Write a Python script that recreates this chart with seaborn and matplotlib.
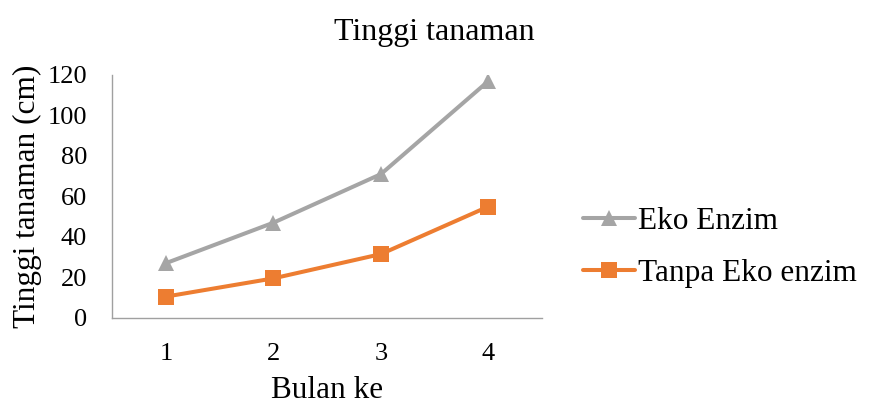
import pandas as pd
import seaborn as sns
import matplotlib.pyplot as plt
import numpy as np

bulan = [1, 2, 3, 4]
eko_enzim = [27, 47, 71, 117]
tanpa_eko = [10.5, 19.5, 31.5, 55]
series_names = ['Eko Enzim', 'Tanpa Eko enzim']

df = pd.DataFrame({
    'Bulan': bulan * 2,
    'Tinggi': eko_enzim + tanpa_eko,
    'Seri': [series_names[0]] * 4 + [series_names[1]] * 4,
})

sns.set_style('white')
plt.rcParams['font.family'] = ['Liberation Serif', 'DejaVu Serif']
plt.rcParams['text.color'] = 'black'
plt.rcParams['axes.labelcolor'] = 'black'
plt.rcParams['xtick.labelcolor'] = 'black'
plt.rcParams['ytick.labelcolor'] = 'black'

fig = plt.figure(figsize=(8.69, 4.07), dpi=100)
ax = fig.add_axes([0.129, 0.219, 0.495, 0.597])

palette = {'Eko Enzim': '#a5a5a5', 'Tanpa Eko enzim': '#ed7d31'}
markers = {'Eko Enzim': '^', 'Tanpa Eko enzim': 's'}
sns.lineplot(data=df, x='Bulan', y='Tinggi', hue='Seri', style='Seri',
             palette=palette, markers=markers, dashes=False,
             linewidth=2.9, markersize=12, markeredgewidth=0, ax=ax)

ax.set_xlim(0.5, 4.5)
ax.set_ylim(0, 120)
ax.set_yticks(np.arange(0, 121, 20))
# boundaries between categories as major ticks, labels at centres
ax.set_xticks([0.5, 1.5, 2.5, 3.5, 4.5])
ax.set_xticklabels([])
ax.set_xticks(bulan, minor=True)
ax.set_xticklabels([str(b) for b in bulan], minor=True)
ax.tick_params(axis='x', which='major', length=6, width=1, color='#a0a0a0', direction='out')
ax.tick_params(axis='x', which='minor', length=0, pad=18, labelsize=19)
ax.tick_params(axis='y', length=6, width=1, color='#a0a0a0', direction='out', labelsize=19, pad=12)

for side in ['top', 'right']:
    ax.spines[side].set_visible(False)
for side in ['left', 'bottom']:
    ax.spines[side].set_color('#a0a0a0')
    ax.spines[side].set_linewidth(1)

ax.set_xlabel('Bulan ke', fontsize=22.5, labelpad=8)
ax.set_ylabel('Tinggi tanaman (cm)', fontsize=22.5, labelpad=4)
ax.set_title('Tinggi tanaman', fontsize=23, pad=25, x=0.749)

leg = ax.legend(loc='center left', bbox_to_anchor=(1.03, 0.29), frameon=False,
                fontsize=22.5, handlelength=1.65, handletextpad=0.1, labelspacing=0.75)

fig.savefig('out.png', dpi=100)
